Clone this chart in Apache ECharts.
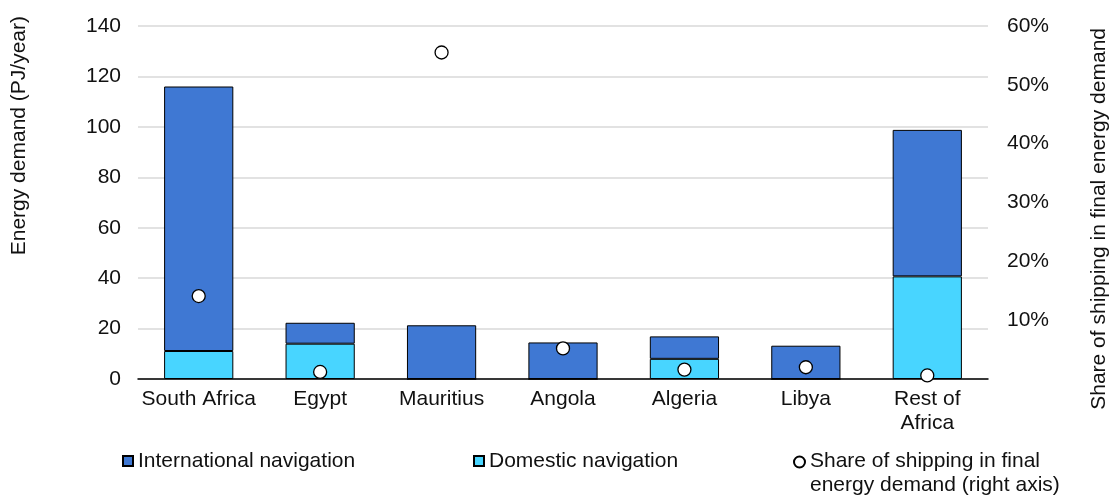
<!DOCTYPE html>
<html>
<head>
<meta charset="utf-8">
<script src="https://cdn.jsdelivr.net/npm/echarts@6/dist/echarts.min.js"></script>
<style>
html,body{margin:0;padding:0;background:#fff;}
#chart{width:1111px;height:495px;}
</style>
</head>
<body>
<div id="chart"></div>
<script>
const categories = ['South Africa', 'Egypt', 'Mauritius', 'Angola', 'Algeria', 'Libya', 'Rest of\nAfrica'];
const domestic = [11.1, 14.0, 0, 0, 8.0, 0, 40.7];
const international = [104.9, 8.3, 21.3, 14.5, 8.9, 13.2, 58.1];
const share = [14.1, 1.2, 55.5, 5.2, 1.6, 2.0, 0.6];
const leftTicks = { min: 0, max: 140, interval: 20 };
const rightTicks = { min: 0, max: 60, interval: 10 };
const leftTitle = 'Energy demand (PJ/year)';
const rightTitle = 'Share of shipping in final energy demand';

const FONT = 'Liberation Sans, Arial, sans-serif';
const FS = 21;
const TXT = '#111';
const C_INT = '#3F78D3';
const C_DOM = '#48D5FF';
const SHARE_NAME = 'Share of shipping in final\nenergy demand (right axis)';
// circle at top of a tall icon box so it lines up with the first text line
const SHARE_ICON = 'path://M0,6a6,6 0 1,0 12,0a6,6 0 1,0 -12,0zM6,36L6,36';

const chart = echarts.init(document.getElementById('chart'));
chart.setOption({
  animation: false,
  textStyle: { fontFamily: FONT },
  grid: { left: 138, right: 123, top: 26, bottom: 116 },
  xAxis: {
    type: 'category',
    data: categories,
    axisLine: { lineStyle: { color: '#000', width: 1.5 } },
    axisTick: { show: false },
    axisLabel: { interval: 0, color: TXT, fontSize: FS, margin: 8, lineHeight: 24, fontFamily: FONT }
  },
  yAxis: [
    {
      type: 'value', min: leftTicks.min, max: leftTicks.max, interval: leftTicks.interval,
      axisLine: { show: false }, axisTick: { show: false },
      splitLine: { lineStyle: { color: '#D9D9D9', width: 1.5 } },
      axisLabel: { color: TXT, fontSize: FS, margin: 17, fontFamily: FONT }
    },
    {
      type: 'value', min: rightTicks.min, max: rightTicks.max, interval: rightTicks.interval,
      axisLine: { show: false }, axisTick: { show: false },
      splitLine: { show: false },
      axisLabel: {
        color: TXT, fontSize: FS, margin: 19, fontFamily: FONT,
        formatter: v => v === 0 ? '' : v + '%'
      }
    }
  ],
  legend: [
    {
      left: 117, top: 444, itemWidth: 10, itemHeight: 10, icon: 'rect',
      data: ['International navigation'],
      textStyle: { fontSize: FS, color: TXT, fontFamily: FONT, lineHeight: 24 }
    },
    {
      left: 468, top: 444, itemWidth: 10, itemHeight: 10, icon: 'rect',
      data: ['Domestic navigation'],
      textStyle: { fontSize: FS, color: TXT, fontFamily: FONT, lineHeight: 24 }
    },
    {
      left: 788, top: 444, itemWidth: 11, itemHeight: 33,
      data: [{ name: SHARE_NAME, icon: SHARE_ICON }],
      textStyle: { fontSize: FS, color: TXT, fontFamily: FONT, lineHeight: 24 }
    }
  ],
  series: [
    {
      name: 'Domestic navigation', type: 'bar', stack: 'total', data: domestic,
      barWidth: '57%',
      itemStyle: { color: C_DOM, borderColor: '#000', borderWidth: 1 }
    },
    {
      name: 'International navigation', type: 'bar', stack: 'total', data: international,
      barWidth: '57%',
      itemStyle: { color: C_INT, borderColor: '#000', borderWidth: 1 }
    },
    {
      name: SHARE_NAME, type: 'scatter', yAxisIndex: 1,
      data: share, symbol: 'circle', symbolSize: 13, z: 5,
      itemStyle: { color: '#fff', borderColor: '#000', borderWidth: 1.3, opacity: 1 }
    }
  ],
  graphic: [
    {
      type: 'text', left: 9, top: 16, rotation: Math.PI / 2,
      style: { text: leftTitle, font: FS + 'px ' + FONT, fill: TXT }
    },
    {
      type: 'text', left: 1089, top: 28, rotation: Math.PI / 2,
      style: { text: rightTitle, font: FS + 'px ' + FONT, fill: TXT }
    }
  ]
});
</script>
</body>
</html>
